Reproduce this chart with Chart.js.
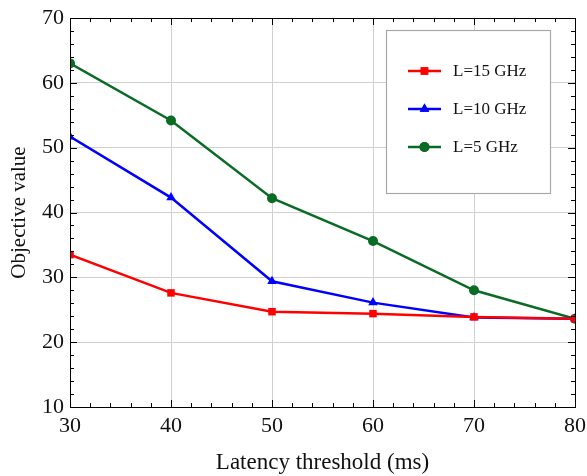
<!DOCTYPE html>
<html>
<head>
<meta charset="utf-8">
<script src="https://cdn.jsdelivr.net/npm/chart.js@4"></script>
<style>
  html, body { margin: 0; padding: 0; background: #fff; }
  #wrap { width: 587px; height: 476px; }
</style>
</head>
<body>
<div id="wrap"><canvas id="chart"></canvas></div>
<script>
const thresholds = [30, 40, 50, 60, 70, 80];
const l15 = [33.5, 27.6, 24.7, 24.4, 23.9, 23.6];
const l10 = [51.7, 42.3, 29.4, 26.1, 23.8, 23.6];
const l5 = [63.0, 54.2, 42.2, 35.6, 28.0, 23.6];

const seriesNames = ['L=15 GHz', 'L=10 GHz', 'L=5 GHz'];
const seriesColors = ['#ff0000', '#0000ff', '#0a6b25'];
const seriesMarkers = ['rect', 'triangle', 'circle'];
const seriesRadius = [5.3, 5.5, 5];

const serif = '"Liberation Serif", "DejaVu Serif", serif';

function toPoints(vals) {
  return thresholds.map((t, i) => ({ x: t, y: vals[i] }));
}

// minor/major ticks drawn inward on all four sides, plus frame
const frameTicks = {
  id: 'frameTicks',
  afterDraw(chart) {
    const { ctx, chartArea: a, scales } = chart;
    const xs = scales.x, ys = scales.y;
    ctx.save();
    ctx.strokeStyle = '#000';
    ctx.lineWidth = 1;
    ctx.beginPath();
    for (let v = 30; v <= 80; v += 2) {
      const px = Math.round(xs.getPixelForValue(v)) + 0.5;
      const len = v % 10 === 0 ? 7 : 4;
      ctx.moveTo(px, a.bottom); ctx.lineTo(px, a.bottom - len);
      ctx.moveTo(px, a.top); ctx.lineTo(px, a.top + len);
    }
    for (let v = 10; v <= 70; v += 2) {
      const py = Math.round(ys.getPixelForValue(v)) + 0.5;
      const len = v % 10 === 0 ? 7 : 4;
      ctx.moveTo(a.left, py); ctx.lineTo(a.left + len, py);
      ctx.moveTo(a.right, py); ctx.lineTo(a.right - len, py);
    }
    ctx.stroke();
    ctx.strokeRect(Math.round(a.left) + 0.5, Math.round(a.top) + 0.5,
      Math.round(a.right - a.left), Math.round(a.bottom - a.top));
    ctx.restore();
  }
};

// framed legend inside the plot
const boxLegend = {
  id: 'boxLegend',
  afterDraw(chart) {
    const { ctx } = chart;
    const bx = 386, by = 30, bw = 164, bh = 163;
    ctx.save();
    ctx.fillStyle = '#fff';
    ctx.fillRect(bx, by, bw, bh);
    ctx.strokeStyle = '#a8a8a8';
    ctx.lineWidth = 1.2;
    ctx.strokeRect(bx + 0.5, by + 0.5, bw, bh);
    chart.data.datasets.forEach((ds, i) => {
      const y = 71 + i * 38;
      ctx.strokeStyle = ds.borderColor;
      ctx.lineWidth = 2.5;
      ctx.beginPath();
      ctx.moveTo(408, y); ctx.lineTo(441, y);
      ctx.stroke();
      ctx.fillStyle = ds.borderColor;
      Chart.helpers.drawPoint(ctx, { pointStyle: ds.pointStyle, radius: ds.pointRadius, borderWidth: 0 }, 424.5, y);
      ctx.fill();
      ctx.fillStyle = '#111';
      ctx.font = '17px ' + serif;
      ctx.textBaseline = 'middle';
      ctx.textAlign = 'left';
      ctx.fillText(ds.label, 453, y + 1);
    });
    ctx.restore();
  }
};

const datasets = [l15, l10, l5].map((vals, i) => ({
  label: seriesNames[i],
  data: toPoints(vals),
  borderColor: seriesColors[i],
  backgroundColor: seriesColors[i],
  borderWidth: 2.5,
  pointStyle: seriesMarkers[i],
  pointRadius: seriesRadius[i],
  pointBorderWidth: 0,
  tension: 0
}));

new Chart(document.getElementById('chart'), {
  type: 'line',
  data: { datasets },
  options: {
    responsive: true,
    maintainAspectRatio: false,
    animation: false,
    layout: { padding: { top: 18, right: 12, left: 0, bottom: 0 } },
    plugins: { legend: { display: false }, tooltip: { enabled: false } },
    scales: {
      x: {
        type: 'linear',
        min: 30, max: 80,
        ticks: { stepSize: 10, color: '#111', font: { family: serif, size: 22 }, padding: 6, maxRotation: 0 },
        grid: { color: '#d0d0d0', lineWidth: 1, drawTicks: false },
        border: { display: false },
        title: { display: true, text: 'Latency threshold (ms)', color: '#111',
          font: { family: serif, size: 23, lineHeight: 1 }, padding: { top: 0, bottom: 2 } },
        afterFit(scale) {
          scale.height = 69;
          scale.paddingLeft = 0;
          scale.paddingRight = 0;
        }
      },
      y: {
        min: 10, max: 70,
        ticks: { stepSize: 10, color: '#111', font: { family: serif, size: 22 }, padding: 6 },
        grid: { color: '#d0d0d0', lineWidth: 1, drawTicks: false },
        border: { display: false },
        title: { display: true, text: 'Objective value', color: '#111',
          font: { family: serif, size: 21, lineHeight: 1 }, padding: { top: 9, bottom: 0 } },
        afterFit(scale) {
          scale.width = 70;
          scale.paddingTop = 0;
          scale.paddingBottom = 0;
        }
      }
    }
  },
  plugins: [frameTicks, boxLegend]
});
</script>
</body>
</html>
